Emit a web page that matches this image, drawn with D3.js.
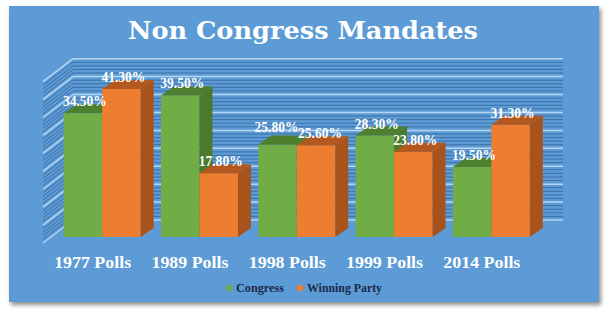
<!DOCTYPE html>
<html><head><meta charset="utf-8">
<script src="https://cdn.jsdelivr.net/npm/d3@7"></script>
<style>html,body{margin:0;padding:0;background:#fff;}svg{display:block;}</style>
</head><body>
<script>
const title = "Non Congress Mandates";
const categories = ["1977 Polls", "1989 Polls", "1998 Polls", "1999 Polls", "2014 Polls"];
const seriesNames = ["Congress", "Winning Party"];
const congress = [34.5, 39.5, 25.8, 28.3, 19.5];
const winningParty = [41.3, 17.8, 25.6, 23.8, 31.3];
const axisMax = 45;
const majorStep = 5;
const minorStep = 1;

const W = 610, H = 314;
const svg = d3.select("body").append("svg").attr("width", W).attr("height", H);
const defs = svg.append("defs");
const f = defs.append("filter").attr("id","sh").attr("x","-5%").attr("y","-5%").attr("width","110%").attr("height","115%");
f.append("feDropShadow").attr("dx",2).attr("dy",3).attr("stdDeviation",2).attr("flood-color","#000").attr("flood-opacity",0.45);

svg.append("rect").attr("x",9).attr("y",6).attr("width",590).attr("height",296)
  .attr("fill","#5B9BD5").attr("filter","url(#sh)");

svg.append("text").attr("x",303).attr("y",39).attr("text-anchor","middle")
  .attr("font-family","'DejaVu Serif'").attr("font-weight","bold").attr("font-size",25)
  .attr("textLength",350).attr("lengthAdjust","spacingAndGlyphs")
  .attr("fill","#fff").text(title);

// 3D geometry
const wallDX = 30, wallDY = 23;   // back wall offset vs front plane
const depthDX = 13, depthDY = 9;  // bar depth
const yFront = d3.scaleLinear().domain([0, axisMax]).range([237, 237 - 3.585*axisMax]);
const yBack = d3.scaleLinear().domain([0, axisMax]).range([220, 220 - 3.585*axisMax]);
const backX0 = 73, backX1 = 563;

const ticks = d3.range(0, axisMax + 0.001, minorStep);
const grid = svg.append("g");
ticks.forEach(t => {
  const major = Math.abs(t % majorStep) < 1e-6;
  const yb = yBack(t);
  const stroke = major ? "#b8d5f2" : "#3d70a6";
  const sw = major ? 1.5 : 1;
  grid.append("line").attr("x1",backX0).attr("x2",backX1).attr("y1",yb).attr("y2",yb)
    .attr("stroke", stroke).attr("stroke-width", sw);
  grid.append("line").attr("x1",backX0 - wallDX).attr("y1",yb + wallDY).attr("x2",backX0).attr("y2",yb)
    .attr("stroke", stroke).attr("stroke-width", sw);
});

const x0 = d3.scaleBand().domain(categories).range([53.5, 540]).paddingInner(0.209).paddingOuter(0.1045);
const x1 = d3.scaleBand().domain(seriesNames).range([0, x0.bandwidth()]);
const colors = {
  "Congress": {front:"#70AD47", top:"#4E7F2E", side:"#4A7A2B"},
  "Winning Party": {front:"#ED7D31", top:"#B3591F", side:"#A9531C"}
};
const values = {"Congress": congress, "Winning Party": winningParty};

const bars = svg.append("g");
const labels = [];
categories.forEach((c, i) => {
  seriesNames.forEach(s => {
    const v = values[s][i];
    const xl = x0(c) + x1(s), xr = xl + x1.bandwidth();
    const yt = yFront(v), yb = yFront(0);
    const col = colors[s];
    bars.append("rect").attr("x",xl).attr("y",yt).attr("width",xr-xl).attr("height",yb-yt).attr("fill",col.front);
    bars.append("path").attr("d",`M${xl},${yt}L${xl+depthDX},${yt-depthDY}L${xr+depthDX},${yt-depthDY}L${xr},${yt}Z`).attr("fill",col.top);
    bars.append("path").attr("d",`M${xr},${yt}L${xr+depthDX},${yt-depthDY}L${xr+depthDX},${yb-depthDY}L${xr},${yb}Z`).attr("fill",col.side);
    labels.push({cx:(xl+xr)/2 + 2, y:yt - 7, text:v.toFixed(2) + "%", s, i});
  });
});
// simple collision avoidance inside a group
for (let k = 0; k < labels.length; k += 2) {
  const a = labels[k], b = labels[k+1];
  if (Math.abs(a.y - b.y) < 10 && (b.cx - a.cx) < 48) {
    if (a.y <= b.y) a.y = b.y - 6; else b.y = a.y - 6;
    a.cx -= 3; b.cx += 2;
  }
}
svg.append("g").selectAll("text").data(labels).join("text")
  .attr("x", d => d.cx).attr("y", d => d.y).attr("text-anchor","middle")
  .attr("font-family","'Liberation Serif'").attr("font-weight","bold").attr("font-size",15)
  .attr("textLength",44).attr("lengthAdjust","spacingAndGlyphs")
  .attr("fill","#fff").text(d => d.text);

svg.append("g").selectAll("text").data(categories).join("text")
  .attr("x", d => x0(d) + x0.bandwidth()/2 - 9.5).attr("y", 268).attr("text-anchor","middle")
  .attr("font-family","'Liberation Serif'").attr("font-weight","bold").attr("font-size",17.5)
  .attr("textLength",77).attr("lengthAdjust","spacingAndGlyphs")
  .attr("fill","#fff").text(d => d);

// legend
const legend = svg.append("g");
const legendItems = [{name:"Congress", x:229, w:48}, {name:"Winning Party", x:300, w:75}];
legendItems.forEach(it => {
  legend.append("circle").attr("cx", it.x).attr("cy", 288).attr("r", 3.2).attr("fill", colors[it.name].front);
  legend.append("text").attr("x", it.x + 7).attr("y", 292)
    .attr("font-family","'Liberation Serif'").attr("font-weight","bold").attr("font-size",12)
    .attr("textLength", it.w).attr("lengthAdjust","spacingAndGlyphs")
    .attr("fill","#1B2A4A").text(it.name);
});
</script>
</body></html>
